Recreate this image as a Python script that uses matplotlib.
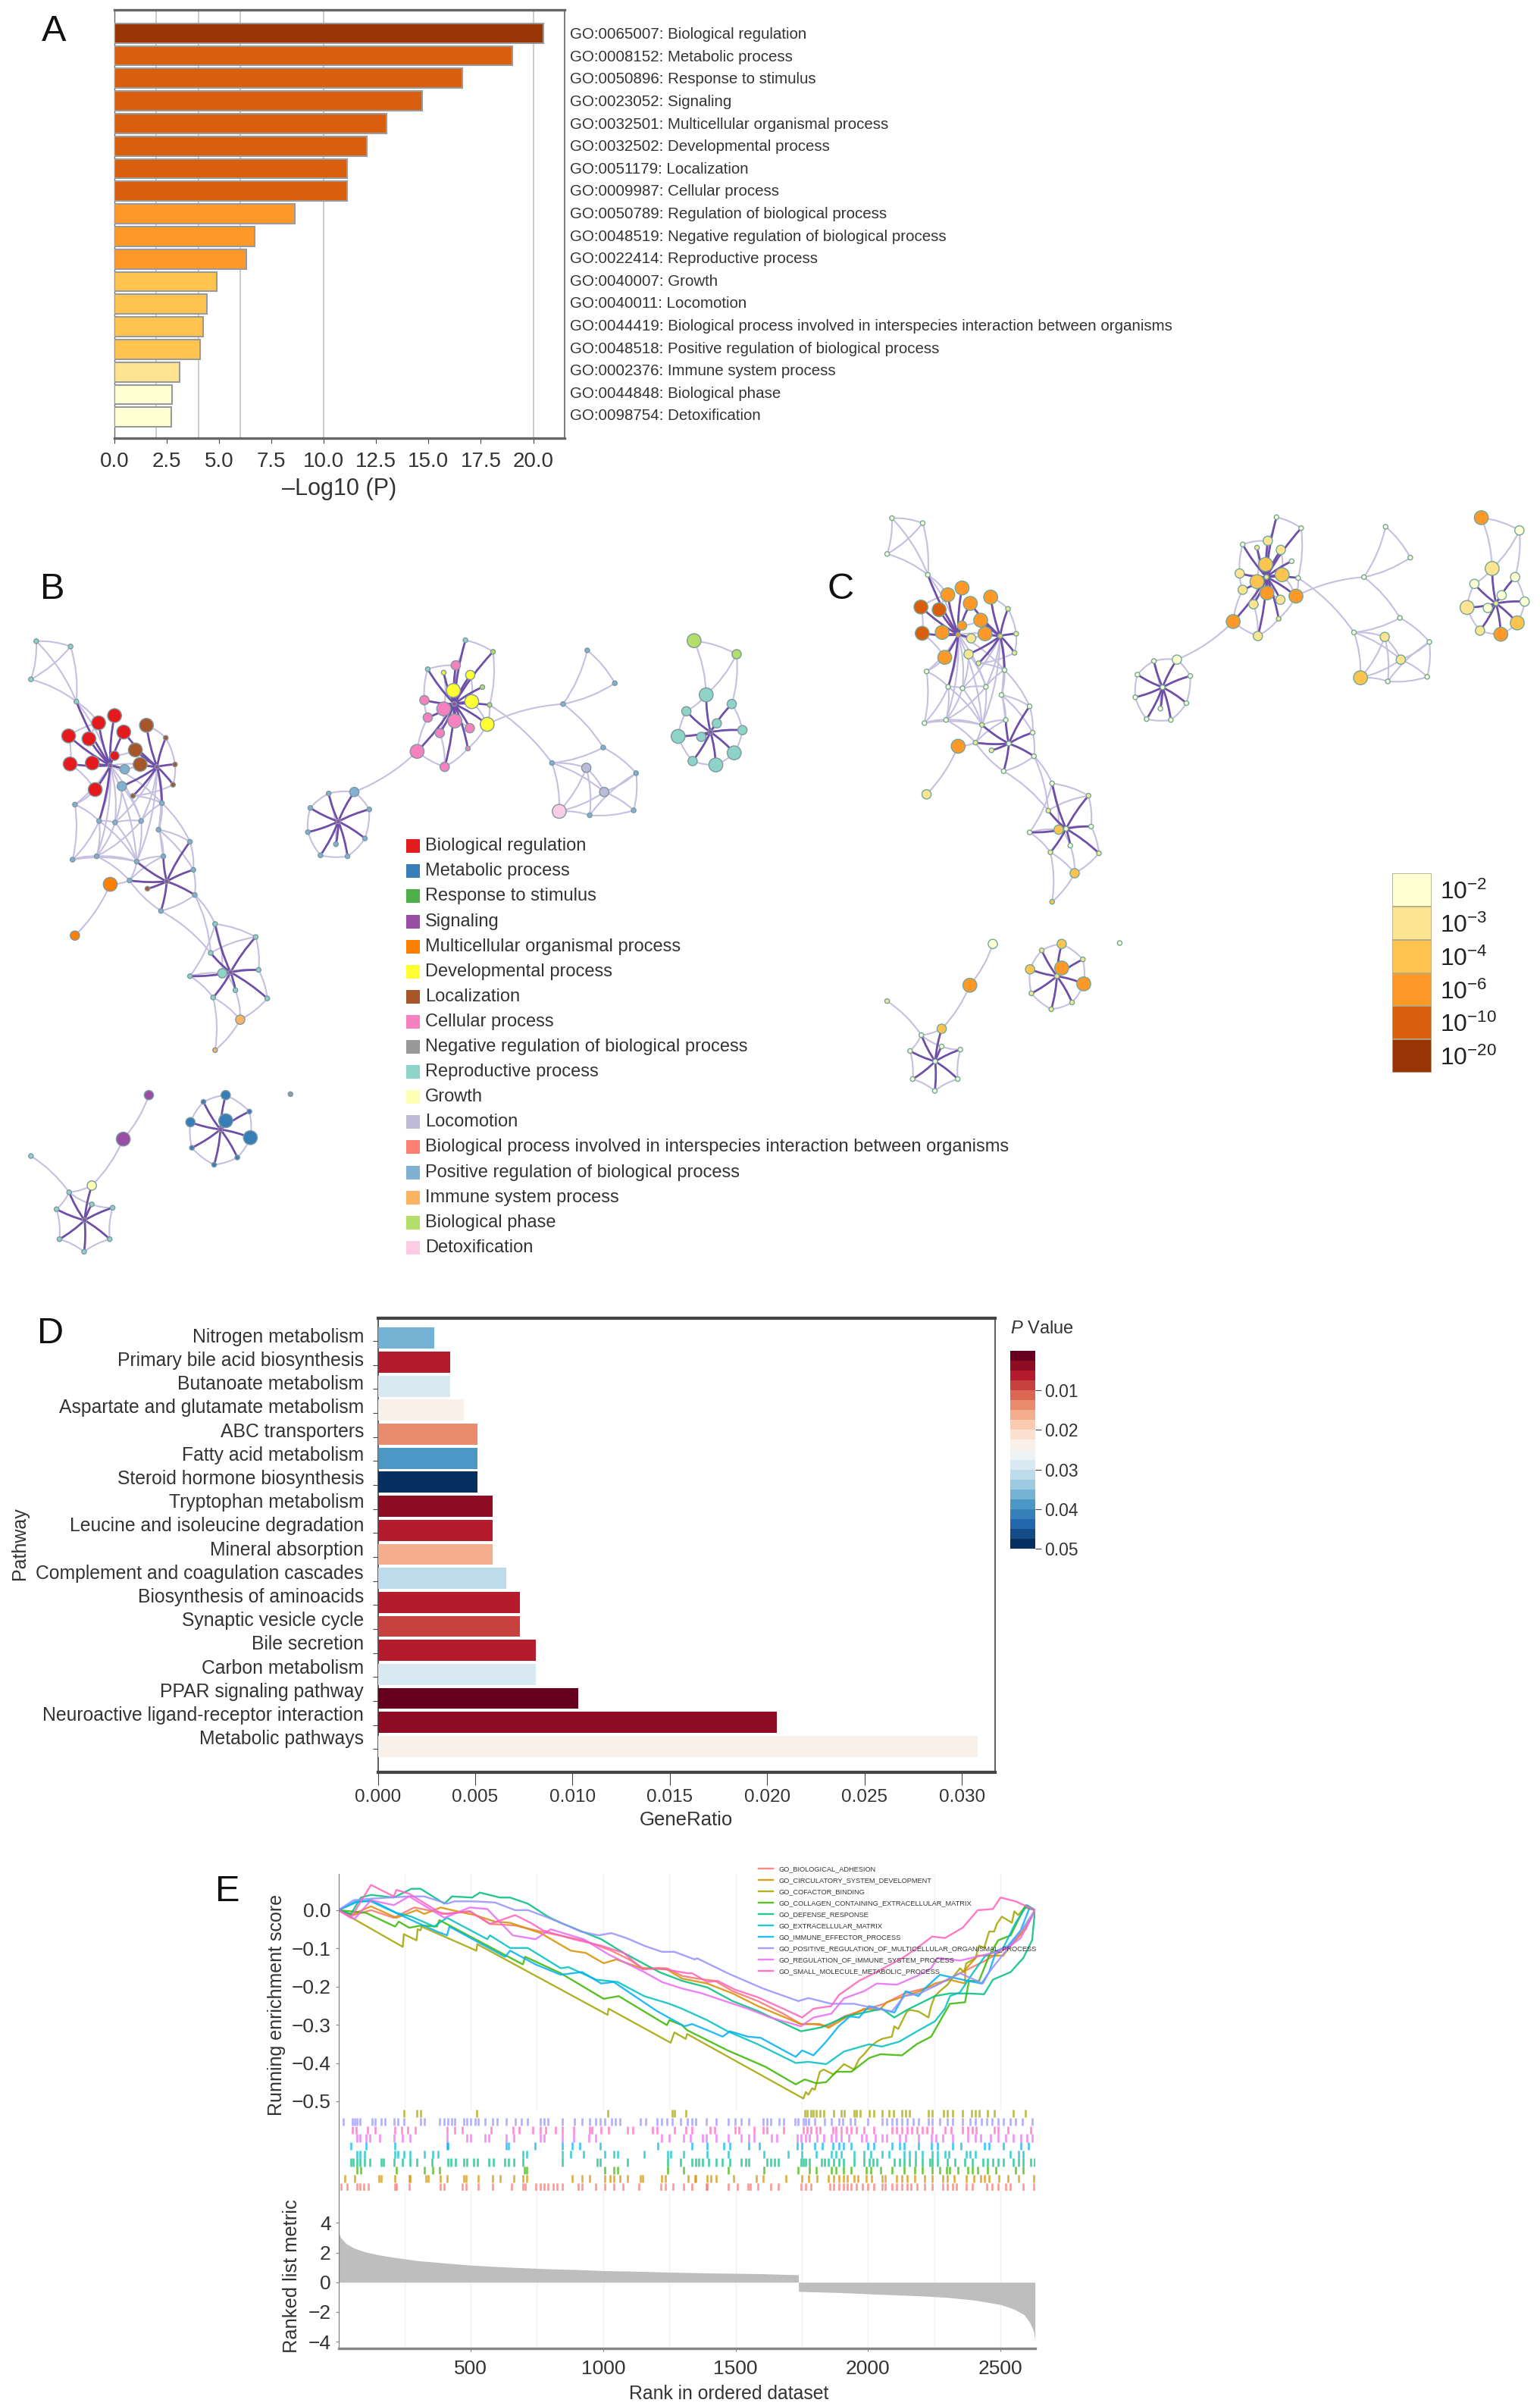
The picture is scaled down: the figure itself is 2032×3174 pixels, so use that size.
import numpy as np
import matplotlib
matplotlib.use('Agg')
import matplotlib.pyplot as plt
from matplotlib.cm import ScalarMappable
from matplotlib.colors import Normalize, to_rgba
from matplotlib.patches import PathPatch
from matplotlib.path import Path

plt.rcParams['font.family'] = ['Liberation Sans', 'DejaVu Sans']
plt.rcParams['mathtext.fontset'] = 'custom'
plt.rcParams['mathtext.rm'] = 'Liberation Sans'
plt.rcParams['mathtext.it'] = 'Liberation Sans:italic'

# ---- panel A
go_terms = ['GO:0065007: Biological regulation', 'GO:0008152: Metabolic process',
            'GO:0050896: Response to stimulus', 'GO:0023052: Signaling',
            'GO:0032501: Multicellular organismal process', 'GO:0032502: Developmental process',
            'GO:0051179: Localization', 'GO:0009987: Cellular process',
            'GO:0050789: Regulation of biological process',
            'GO:0048519: Negative regulation of biological process',
            'GO:0022414: Reproductive process', 'GO:0040007: Growth', 'GO:0040011: Locomotion',
            'GO:0044419: Biological process involved in interspecies interaction between organisms',
            'GO:0048518: Positive regulation of biological process',
            'GO:0002376: Immune system process', 'GO:0044848: Biological phase',
            'GO:0098754: Detoxification']
go_logp = [20.5, 19.0, 16.6, 14.7, 13.0, 12.05, 11.1, 11.1, 8.6, 6.7, 6.3, 4.9, 4.4, 4.25, 4.1, 3.1, 2.75, 2.7]
go_level = [5, 4, 4, 4, 4, 4, 4, 4, 3, 3, 3, 2, 2, 2, 2, 1, 0, 0]
p_colors = ['#ffffd4', '#fee391', '#fec44f', '#fe9929', '#d95f0e', '#993404']
p_labels = ['2', '3', '4', '6', '10', '20']

# ---- panels B and C, network
term_names = ['Biological regulation', 'Metabolic process', 'Response to stimulus', 'Signaling',
              'Multicellular organismal process', 'Developmental process', 'Localization',
              'Cellular process', 'Negative regulation of biological process', 'Reproductive process',
              'Growth', 'Locomotion', 'Biological process involved in interspecies interaction between organisms',
              'Positive regulation of biological process', 'Immune system process', 'Biological phase',
              'Detoxification']
term_colors = ['#e41a1c', '#377eb8', '#4daf4a', '#984ea3', '#ff7f00', '#ffff33', '#a65628', '#f781bf',
               '#999999', '#8dd3c7', '#ffffb3', '#bebada', '#fb8072', '#80b1d3', '#fdb462', '#b3de69', '#fccde5']
# x, y, genes, term in B, p level in C
nodes = [
    (75, 260, 1, 9, 0), (146, 271, 1, 9, 0), (64, 339, 1, 9, 0), (158, 385, 1, 9, 0),
    (142, 456, 3, 0, 4), (184, 462, 3, 0, 4), (204, 429, 3, 0, 3), (237, 414, 3, 0, 3), (256, 448, 3, 0, 3),
    (145, 514, 3, 0, 4), (191, 512, 3, 0, 3), (237, 497, 2, 0, 3), (197, 567, 3, 0, 3), (228, 517, 1, 3, 3),
    (303, 434, 3, 6, 3), (343, 460, 1, 6, 1), (280, 485, 3, 6, 3), (290, 515, 3, 6, 3), (362, 515, 1, 6, 1),
    (358, 557, 1, 6, 1), (275, 580, 1, 6, 1), (325, 520, 1, 3, 2), (258, 525, 2, 13, 1), (252, 560, 2, 13, 1),
    (155, 598, 1, 13, 0), (205, 632, 1, 13, 0), (238, 635, 1, 13, 0), (292, 632, 1, 13, 0), (335, 595, 1, 13, 0),
    (328, 650, 1, 13, 0), (150, 712, 1, 13, 0), (200, 705, 1, 13, 0), (283, 716, 1, 13, 1), (268, 755, 1, 13, 1),
    (228, 763, 3, 4, 3), (155, 869, 2, 4, 1), (393, 675, 1, 13, 0), (338, 705, 1, 13, 0), (400, 733, 1, 13, 0),
    (403, 785, 1, 13, 0), (333, 818, 1, 13, 0), (305, 772, 1, 6, 1), (345, 757, 1, 3, 0),
    (445, 845, 1, 9, 0), (529, 872, 1, 9, 1), (436, 905, 1, 9, 1), (460, 947, 2, 9, 2), (393, 953, 1, 9, 0),
    (535, 940, 1, 9, 0), (487, 982, 1, 9, 0), (441, 997, 1, 9, 1), (553, 999, 1, 9, 1), (477, 945, 1, 3, 0),
    (497, 1043, 2, 14, 2), (445, 1106, 1, 14, 2),
    (308, 1199, 2, 3, 0), (255, 1290, 3, 3, 3), (190, 1386, 2, 10, 2), (64, 1325, 1, 9, 1), (143, 1400, 1, 9, 0),
    (117, 1435, 1, 9, 0), (233, 1432, 1, 9, 0), (190, 1425, 1, 9, 0), (123, 1497, 1, 9, 0), (227, 1497, 1, 9, 0),
    (174, 1523, 1, 9, 0), (175, 1458, 1, 3, 0),
    (467, 1199, 2, 1, 2), (467, 1252, 3, 1, 3), (421, 1213, 1, 1, 1), (516, 1233, 1, 1, 1), (394, 1255, 2, 1, 2),
    (518, 1287, 3, 1, 3), (397, 1308, 1, 1, 1), (491, 1328, 1, 1, 1), (443, 1343, 1, 1, 1), (456, 1270, 1, 3, 1),
    (601, 1197, 1, 8, 0),
    (963, 258, 1, 9, 0), (1020, 282, 1, 15, 0), (943, 310, 2, 7, 1), (885, 318, 1, 9, 0), (918, 325, 1, 5, 1),
    (973, 330, 2, 5, 1), (998, 355, 1, 15, 0), (938, 362, 3, 5, 2), (976, 385, 3, 5, 2), (1013, 392, 1, 15, 0),
    (878, 382, 2, 7, 1), (918, 400, 3, 7, 2), (885, 418, 2, 7, 1), (941, 425, 3, 7, 3), (1008, 432, 3, 5, 3),
    (972, 440, 2, 7, 1), (910, 450, 2, 7, 1), (968, 482, 1, 7, 1), (863, 488, 3, 7, 3), (920, 520, 2, 7, 1),
    (940, 390, 1, 3, 1),
    (680, 575, 1, 13, 0), (733, 572, 2, 13, 0), (764, 608, 1, 13, 0), (642, 605, 1, 13, 0), (755, 668, 1, 13, 0),
    (637, 655, 1, 13, 0), (663, 703, 1, 13, 0), (719, 705, 1, 13, 0), (695, 680, 1, 13, 0), (700, 633, 1, 3, 0),
    (1215, 279, 1, 13, 0), (1272, 347, 1, 13, 0), (1165, 390, 1, 13, 0), (1248, 480, 1, 13, 0), (1142, 512, 1, 13, 0),
    (1213, 522, 2, 11, 1), (1316, 533, 1, 13, 0), (1250, 572, 2, 11, 1), (1311, 610, 1, 13, 0), (1220, 620, 1, 13, 0),
    (1157, 612, 3, 16, 2),
    (1436, 259, 3, 15, 3), (1524, 287, 2, 15, 0), (1461, 371, 3, 9, 1), (1514, 390, 2, 9, 0), (1420, 405, 2, 9, 0),
    (1483, 430, 2, 9, 0), (1536, 444, 2, 9, 0), (1403, 457, 3, 9, 1), (1451, 458, 2, 9, 0), (1519, 491, 3, 9, 2),
    (1433, 508, 2, 9, 1), (1481, 516, 3, 9, 3), (1470, 448, 1, 3, 1),
]
node_x = [n[0] for n in nodes]
node_y = [n[1] for n in nodes]
node_genes = [n[2] for n in nodes]
node_term = [n[3] for n in nodes]
node_level = [n[4] for n in nodes]
hub_spokes = {
    13: [4, 5, 6, 7, 8, 9, 10, 11, 12, 3, 22, 25],
    21: [14, 15, 16, 17, 18, 19, 20, 8, 28, 23],
    42: [36, 37, 38, 39, 40, 41, 33, 32],
    52: [43, 44, 45, 46, 47, 48, 49, 50, 51],
    66: [57, 59, 60, 61, 62, 63, 64, 65],
    76: [67, 68, 69, 70, 71, 72, 73, 74, 75],
    98: [78, 79, 80, 81, 82, 83, 84, 85, 86, 87, 88, 89, 90, 91, 92, 93, 94, 95, 96, 97],
    108: [99, 100, 101, 102, 103, 104, 105, 106, 107],
    132: [122, 123, 124, 125, 126, 127, 128, 129, 130, 131],
}
web_edges = [
    (0, 1), (1, 2), (0, 2), (1, 3), (2, 3), (0, 3), (3, 13), (3, 6),
    (24, 25), (25, 26), (26, 27), (27, 28), (24, 30), (25, 30), (25, 31), (25, 32), (26, 31), (27, 31), (27, 32),
    (30, 31), (31, 32), (32, 33), (33, 34), (34, 35), (28, 29), (29, 36), (36, 38), (38, 39), (39, 40), (40, 33),
    (33, 37), (32, 37), (37, 28), (29, 37), (12, 24), (13, 24), (13, 25), (21, 27), (21, 28), (13, 26), (21, 29),
    (13, 32), (39, 43), (39, 45), (40, 45), (13, 21), (22, 21), (13, 28), (13, 27), (21, 26), (21, 32), (13, 31),
    (4, 6), (5, 6), (4, 9), (9, 12), (14, 15), (15, 18), (18, 19), (19, 20), (20, 28), (16, 11), (17, 22), (23, 26),
    (23, 27), (30, 32), (31, 33), (26, 32), (29, 38), (28, 36),
    (43, 44), (44, 48), (48, 51), (43, 47), (47, 50), (50, 54), (50, 53), (51, 53), (53, 54), (45, 44), (47, 46),
    (43, 46), (45, 49), (46, 48), (49, 53),
    (55, 56), (56, 57), (57, 59), (58, 59), (59, 60), (60, 63), (63, 65), (65, 64), (64, 61), (61, 62), (62, 59),
    (69, 67), (67, 70), (70, 72), (72, 74), (74, 75), (75, 73), (73, 71), (71, 69),
    (78, 79), (78, 80), (79, 87), (87, 92), (92, 95), (95, 97), (97, 96), (96, 90), (90, 88), (88, 81), (81, 80),
    (80, 85), (82, 89), (83, 86), (85, 91), (89, 94), (91, 93), (86, 92), (94, 97),
    (96, 100), (92, 111), (87, 113),
    (109, 110), (109, 111), (110, 111), (111, 112), (112, 113), (112, 115), (113, 114), (114, 116), (113, 116),
    (113, 119), (114, 119), (114, 118), (115, 117), (116, 117), (117, 118), (115, 116), (118, 115), (116, 119),
    (119, 118),
    (99, 100), (100, 101), (101, 103), (103, 106), (106, 105), (105, 104), (104, 102), (102, 99), (99, 107),
    (120, 121), (120, 122), (121, 122), (121, 123), (122, 124), (123, 126), (126, 129), (129, 131), (131, 130),
    (130, 127), (127, 124),
]

# ---- panel D
pathways = ['Nitrogen metabolism', 'Primary bile acid biosynthesis', 'Butanoate metabolism',
            'Aspartate and glutamate metabolism', 'ABC transporters', 'Fatty acid metabolism',
            'Steroid hormone biosynthesis', 'Tryptophan metabolism', 'Leucine and isoleucine degradation',
            'Mineral absorption', 'Complement and coagulation cascades', 'Biosynthesis of aminoacids',
            'Synaptic vesicle cycle', 'Bile secretion', 'Carbon metabolism', 'PPAR signaling pathway',
            'Neuroactive ligand-receptor interaction', 'Metabolic pathways']
gene_ratio = [0.0029, 0.0037, 0.0037, 0.0044, 0.0051, 0.0051, 0.0051, 0.0059, 0.0059, 0.0059, 0.0066,
              0.0073, 0.0073, 0.0081, 0.0081, 0.0103, 0.0205, 0.0308]
p_value = [0.036, 0.0065, 0.028, 0.023, 0.014, 0.038, 0.05, 0.004, 0.006, 0.016, 0.030, 0.0065, 0.0085,
           0.0065, 0.028, 0.0005, 0.0045, 0.024]

# ---- panel E curves, (rank, running score)
biological_adhesion = [(1, 0), (58, -.013), (124, 0), (210, -.02), (287, .007), (411, -.01), (497, -.003), (573, -.036),
    (668, -.04), (764, -.056), (926, -.079), (1031, -.106), (1098, -.129), (1150, -.152), (1241, -.152), (1298, -.172),
    (1355, -.179), (1422, -.185), (1489, -.212), (1584, -.238), (1680, -.271), (1746, -.298), (1794, -.298),
    (1851, -.304), (1909, -.278), (1985, -.261), (2061, -.245), (2137, -.218), (2252, -.198), (2347, -.165),
    (2443, -.132), (2538, -.093), (2595, -.05), (2630, 0)]
circulatory_system = [(1, 0), (48, -.013), (124, .01), (220, -.02), (296, 0), (325, -.01), (387, .007), (430, 0),
    (516, -.013), (592, -.03), (649, -.033), (764, -.06), (878, -.106), (935, -.112), (1002, -.139), (1050, -.129),
    (1145, -.152), (1241, -.155), (1298, -.179), (1393, -.192), (1489, -.218), (1584, -.251), (1746, -.298),
    (1818, -.298), (1851, -.308), (1909, -.284), (1985, -.258), (2042, -.261), (2071, -.241), (2137, -.225),
    (2195, -.212), (2252, -.192), (2309, -.182), (2366, -.192), (2367, -.155), (2414, -.119), (2510, -.119),
    (2538, -.093), (2595, -.043), (2630, 0)]
cofactor_binding = [(1, 0), (244, -.096), (248, -.063), (296, -.079), (300, -.05), (311, -.053), (315, -.043),
    (522, -.106), (525, -.089), (1017, -.274), (1021, -.258), (1255, -.347), (1269, -.32), (1312, -.337),
    (1317, -.324), (1756, -.493), (1765, -.476), (1775, -.483), (1789, -.466), (1799, -.47), (1818, -.423),
    (1832, -.417), (1870, -.43), (1909, -.403), (1947, -.417), (1966, -.39), (1985, -.377), (2009, -.357),
    (2033, -.344), (2052, -.337), (2090, -.331), (2099, -.304), (2114, -.311), (2128, -.291), (2147, -.265),
    (2157, -.261), (2190, -.265), (2228, -.281), (2238, -.251), (2252, -.225), (2271, -.212), (2300, -.195),
    (2324, -.172), (2347, -.152), (2362, -.162), (2371, -.139), (2405, -.126), (2419, -.093), (2438, -.099),
    (2457, -.056), (2476, -.056), (2486, -.036), (2505, -.017), (2543, -.033), (2552, -.003), (2567, -.013),
    (2591, .007), (2630, 0)]
collagen_matrix = [(1, 0), (105, -.007), (215, -.043), (229, -.03), (268, -.046), (315, -.04), (373, -.043),
    (382, -.026), (697, -.142), (706, -.122), (840, -.165), (1002, -.232), (1059, -.225), (1241, -.301),
    (1250, -.288), (1298, -.301), (1317, -.314), (1470, -.367), (1613, -.41), (1727, -.456), (1761, -.443),
    (1804, -.453), (1842, -.45), (1880, -.423), (1937, -.423), (2004, -.387), (2047, -.377), (2128, -.38),
    (2185, -.35), (2238, -.331), (2271, -.291), (2309, -.245), (2366, -.241), (2381, -.185), (2419, -.185),
    (2457, -.119), (2491, -.079), (2538, -.066), (2576, -.013), (2595, .013), (2630, 0)]
defense_response = [(1, 0), (48, -.01), (86, .033), (124, .04), (210, .033), (277, .056), (311, .056), (401, .017),
    (430, .036), (506, .033), (535, .046), (611, .033), (649, .033), (716, .017), (792, -.017), (840, -.033),
    (935, -.06), (993, -.076), (1078, -.112), (1212, -.162), (1298, -.185), (1393, -.202), (1489, -.238),
    (1584, -.264), (1746, -.317), (1823, -.307), (1918, -.278), (2052, -.258), (2099, -.281), (2147, -.261),
    (2252, -.225), (2309, -.218), (2376, -.218), (2438, -.22), (2471, -.182), (2538, -.162), (2586, -.125),
    (2619, -.079), (2630, 0)]
extracellular_matrix = [(1, 0), (67, .02), (124, .026), (220, -.007), (277, -.017), (363, -.043), (382, -.033),
    (411, -.02), (563, -.076), (573, -.066), (649, -.099), (716, -.099), (840, -.152), (869, -.149), (974, -.182),
    (1055, -.188), (1155, -.225), (1250, -.245), (1298, -.258), (1393, -.288), (1470, -.317), (1584, -.351),
    (1727, -.4), (1775, -.397), (1842, -.403), (1909, -.37), (2004, -.351), (2052, -.357), (2118, -.344),
    (2185, -.317), (2252, -.291), (2290, -.258), (2309, -.225), (2347, -.215), (2395, -.165), (2443, -.119),
    (2510, -.099), (2557, -.033), (2600, .013), (2630, 0)]
immune_effector = [(1, 0), (67, .023), (124, .023), (277, -.026), (373, -.056), (411, -.066), (420, -.043),
    (630, -.122), (649, -.106), (745, -.142), (840, -.169), (921, -.162), (993, -.192), (1040, -.188), (1203, -.264),
    (1307, -.304), (1336, -.298), (1393, -.314), (1451, -.331), (1479, -.317), (1546, -.331), (1594, -.334),
    (1727, -.384), (1751, -.367), (1794, -.38), (1842, -.344), (1889, -.304), (1932, -.278), (1966, -.281),
    (2004, -.251), (2061, -.261), (2099, -.268), (2118, -.245), (2142, -.212), (2190, -.225), (2214, -.205),
    (2271, -.169), (2376, -.185), (2429, -.192), (2457, -.162), (2481, -.112), (2529, -.093), (2576, -.053),
    (2610, .007), (2630, 0)]
positive_regulation = [(1, 0), (58, .026), (124, .03), (268, .036), (325, .036), (411, .017), (439, .023), (516, .023),
    (592, .02), (668, 0), (716, 0), (783, -.017), (840, -.033), (916, -.056), (983, -.066), (1031, -.06), (1088, -.073),
    (1155, -.093), (1222, -.109), (1269, -.109), (1346, -.129), (1355, -.126), (1470, -.165), (1603, -.205),
    (1737, -.238), (1775, -.23), (1861, -.245), (1947, -.245), (2033, -.258), (2090, -.265), (2137, -.225),
    (2195, -.218), (2271, -.192), (2347, -.165), (2433, -.192), (2457, -.162), (2529, -.099), (2586, -.046), (2630, 0)]
regulation_immune = [(1, 0), (62, -.023), (124, .026), (210, .013), (268, .036), (401, -.02), (497, .007), (563, .003),
    (659, -.066), (745, -.076), (802, -.05), (926, -.076), (1021, -.116), (1155, -.162), (1222, -.188), (1298, -.205),
    (1374, -.218), (1460, -.238), (1546, -.258), (1632, -.281), (1746, -.304), (1794, -.281), (1861, -.271),
    (1909, -.231), (1985, -.212), (2033, -.192), (2109, -.195), (2185, -.172), (2238, -.152), (2262, -.125),
    (2347, -.132), (2471, -.112), (2538, -.093), (2576, -.073), (2630, 0)]
small_molecule = [(1, 0), (48, -.02), (124, .066), (210, .036), (220, .053), (268, .043), (392, -.01), (497, -.003),
    (573, -.036), (668, -.013), (726, -.033), (773, -.053), (888, -.076), (993, -.093), (1078, -.112), (1150, -.155),
    (1212, -.152), (1317, -.165), (1336, -.165), (1393, -.188), (1432, -.185), (1498, -.208), (1584, -.228),
    (1680, -.258), (1751, -.281), (1794, -.258), (1861, -.251), (1890, -.222), (1966, -.185), (2023, -.165),
    (2128, -.126), (2185, -.099), (2242, -.069), (2290, -.073), (2357, -.046), (2414, 0), (2471, .003), (2500, .033),
    (2557, .023), (2630, 0)]
gsea_curves = [biological_adhesion, circulatory_system, cofactor_binding, collagen_matrix, defense_response,
               extracellular_matrix, immune_effector, positive_regulation, regulation_immune, small_molecule]
gsea_names = ['GO_BIOLOGICAL_ADHESION', 'GO_CIRCULATORY_SYSTEM_DEVELOPMENT', 'GO_COFACTOR_BINDING',
              'GO_COLLAGEN_CONTAINING_EXTRACELLULAR_MATRIX', 'GO_DEFENSE_RESPONSE', 'GO_EXTRACELLULAR_MATRIX',
              'GO_IMMUNE_EFFECTOR_PROCESS', 'GO_POSITIVE_REGULATION_OF_MULTICELLULAR_ORGANISMAL_PROCESS',
              'GO_REGULATION_OF_IMMUNE_SYSTEM_PROCESS', 'GO_SMALL_MOLECULE_METABOLIC_PROCESS']
gsea_colors = ['#F8766D', '#D89000', '#A3A500', '#39B600', '#00BF7D', '#00BFC4', '#00B0F6', '#9590FF', '#E76BF3', '#FF62BC']

# hit ranks of every set
rug_cofactor = [247, 296, 310, 523, 1019, 1260, 1269, 1312, 1761, 1770, 1785, 1794, 1804, 1818, 1832, 1870, 1899, 1909,
    1947, 1956, 1971, 2004, 2023, 2052, 2080, 2095, 2128, 2142, 2157, 2228, 2242, 2285, 2299, 2319, 2357, 2390, 2405,
    2419, 2452, 2476, 2548, 2595]
rug_positive = [20, 53, 62, 72, 82, 129, 139, 163, 177, 210, 225, 248, 311, 325, 382, 401, 415, 430, 439, 473, 487, 501,
    516, 530, 554, 582, 601, 635, 668, 692, 716, 764, 778, 792, 845, 892, 921, 950, 973, 988, 1007, 1031, 1045, 1064,
    1141, 1160, 1203, 1222, 1241, 1260, 1293, 1317, 1336, 1350, 1389, 1427, 1474, 1498, 1522, 1551, 1603, 1618, 1632,
    1665, 1680, 1723, 1737, 1756, 1765, 1775, 1799, 1837, 1861, 1889, 1904, 1932, 1951, 1999, 2052, 2071, 2090, 2109,
    2128, 2147, 2171, 2190, 2228, 2242, 2271, 2300, 2319, 2357, 2386, 2405, 2429, 2448, 2467, 2490, 2510, 2538, 2557,
    2581, 2619]
rug_small = [53, 67, 110, 139, 215, 239, 263, 291, 411, 439, 468, 578, 659, 683, 735, 764, 783, 821, 845, 888, 950, 959,
    993, 1021, 1093, 1112, 1188, 1203, 1269, 1312, 1336, 1403, 1422, 1498, 1513, 1570, 1603, 1618, 1680, 1756, 1770,
    1785, 1804, 1818, 1866, 1880, 1899, 1918, 1937, 1956, 1985, 2023, 2090, 2109, 2128, 2147, 2166, 2185, 2204, 2223,
    2242, 2290, 2314, 2357, 2376, 2395, 2409, 2476, 2490, 2529, 2614]
rug_regulation = [72, 82, 105, 120, 158, 210, 244, 272, 411, 487, 501, 554, 568, 635, 663, 764, 778, 845, 888, 945, 973,
    1222, 1250, 1303, 1331, 1374, 1389, 1427, 1474, 1522, 1551, 1570, 1637, 1656, 1732, 1746, 1765, 1780, 1808, 1832,
    1861, 1880, 1899, 1928, 1975, 1994, 2028, 2052, 2071, 2118, 2142, 2190, 2238, 2257, 2281, 2319, 2376, 2405, 2424,
    2462, 2490, 2519, 2548, 2577, 2600, 2619]
rug_immune = [48, 105, 215, 411, 415, 635, 644, 742, 845, 883, 912, 988, 1207, 1336, 1393, 1455, 1479, 1551, 1589, 1732,
    1751, 1799, 1827, 1866, 1889, 1908, 1937, 1999, 2023, 2090, 2118, 2137, 2190, 2238, 2262, 2319, 2352, 2438, 2457,
    2510, 2576, 2605]
rug_extracellular = [72, 82, 101, 215, 225, 248, 272, 325, 358, 377, 697, 711, 845, 878, 926, 1007, 1040, 1055, 1155, 1245,
    1255, 1303, 1393, 1474, 1608, 1699, 1751, 1804, 1861, 1880, 1899, 1947, 1985, 2009, 2052, 2080, 2137, 2157, 2180,
    2204, 2242, 2262, 2290, 2304, 2371, 2386, 2405, 2538, 2567, 2586]
rug_defense = [48, 58, 72, 82, 101, 120, 163, 172, 210, 244, 272, 296, 354, 415, 425, 444, 473, 487, 511, 525, 568, 587,
    630, 644, 663, 697, 845, 978, 988, 1093, 1245, 1293, 1336, 1350, 1360, 1374, 1398, 1427, 1451, 1479, 1522, 1537, 1551,
    1618, 1632, 1646, 1661, 1746, 1756, 1765, 1780, 1823, 1837, 1851, 1870, 1889, 1908, 1947, 1985, 2004, 2018, 2033,
    2099, 2118, 2137, 2157, 2180, 2204, 2233, 2242, 2262, 2300, 2328, 2366, 2395, 2433, 2452, 2471, 2491, 2510, 2548,
    2567, 2586, 2614, 2629]
rug_collagen = [72, 86, 220, 325, 358, 382, 702, 711, 1007, 1040, 1055, 1245, 1303, 1474, 1608, 1737, 1780, 1804, 1861,
    1880, 1908, 1937, 1994, 2009, 2047, 2090, 2137, 2176, 2204, 2242, 2271, 2295, 2309, 2338, 2376, 2395, 2414, 2452,
    2481, 2557, 2586]
rug_circulatory = [24, 62, 153, 163, 215, 268, 272, 330, 339, 387, 411, 473, 482, 530, 582, 611, 663, 697, 711, 883, 921,
    950, 1007, 1026, 1040, 1064, 1093, 1141, 1150, 1222, 1236, 1322, 1346, 1350, 1393, 1408, 1427, 1494, 1579, 1603,
    1689, 1751, 1775, 1808, 1851, 1870, 1889, 1908, 1923, 1947, 1961, 1994, 2014, 2052, 2066, 2109, 2128, 2147, 2176,
    2214, 2242, 2281, 2300, 2324, 2371, 2400, 2424, 2438, 2457, 2495, 2529, 2567, 2624]
rug_adhesion = [10, 34, 72, 82, 96, 115, 215, 220, 268, 387, 401, 468, 482, 530, 582, 654, 697, 706, 745, 764, 778, 792,
    811, 826, 845, 907, 921, 973, 1007, 1040, 1074, 1136, 1217, 1236, 1265, 1303, 1336, 1389, 1393, 1474, 1508, 1546, 1556,
    1584, 1632, 1660, 1746, 1765, 1785, 1856, 1870, 1889, 1908, 1923, 1937, 1956, 1980, 1999, 2023, 2052, 2066, 2090,
    2109, 2128, 2147, 2161, 2185, 2214, 2242, 2281, 2300, 2319, 2333, 2371, 2395, 2448, 2467, 2491, 2519, 2538, 2586, 2624]
rug_rows = [rug_cofactor, rug_positive, rug_small, rug_regulation, rug_immune, rug_extracellular, rug_defense,
            rug_collagen, rug_circulatory, rug_adhesion]
rug_colors = ['#A3A500', '#9590FF', '#FF62BC', '#E76BF3', '#00B0F6', '#00BFC4', '#00BF7D', '#39B600', '#D89000', '#F8766D']

metric_rank = [1, 10, 30, 60, 100, 150, 200, 300, 400, 500, 600, 700, 800, 900, 1000, 1100, 1200, 1300, 1400, 1500, 1600,
               1737, 1738, 1800, 1900, 2000, 2100, 2200, 2300, 2400, 2500, 2550, 2590, 2610, 2625, 2630]
metric_value = [3.4, 3.0, 2.6, 2.3, 2.05, 1.85, 1.7, 1.45, 1.3, 1.15, 1.05, 0.97, 0.9, 0.85, 0.78, 0.75, 0.7, 0.66, 0.62,
                0.6, 0.57, 0.5, -0.62, -0.65, -0.7, -0.78, -0.85, -0.92, -1.02, -1.2, -1.5, -1.8, -2.2, -2.7, -3.3, -3.9]

W, H = 2032, 3174
fig = plt.figure(figsize=(W / 100, H / 100), dpi=100, facecolor='white')


def px_axes(x0, y0, x1, y1):
    return fig.add_axes([x0 / W, 1 - y1 / H, (x1 - x0) / W, (y1 - y0) / H])


def curved_edge(ax, a, b, color, lw, bend=0.1):
    xa, ya, xb, yb = node_x[a], node_y[a], node_x[b], node_y[b]
    cx = (xa + xb) / 2 + bend * (yb - ya)
    cy = (ya + yb) / 2 - bend * (xb - xa)
    path = Path([(xa, ya), (cx, cy), (xb, yb)], [Path.MOVETO, Path.CURVE3, Path.CURVE3])
    ax.add_patch(PathPatch(path, fc='none', ec=color, lw=lw, zorder=1))


def draw_network(ax, colors, edge):
    for a, b in web_edges:
        curved_edge(ax, a, b, '#c6bfe0', 1.5)
    for hub, spokes in hub_spokes.items():
        for s in spokes:
            curved_edge(ax, hub, s, '#6e4fa8', 2.0, bend=0.06)
    ax.scatter(node_x, node_y, s=[(4.4 * g) ** 2 for g in node_genes], c=colors, edgecolors=edge, linewidths=1.0, zorder=2)
    ax.set_xlim(0, 1568)
    ax.set_ylim(1568, 0)
    ax.axis('off')


for letter, lx, ly in [('A', 71, 42), ('B', 69, 778), ('C', 1109, 778), ('D', 67, 1759), ('E', 300, 2495)]:
    fig.text(lx / W, 1 - ly / H, letter, fontsize=35, ha='center', va='center', color='#111')

# panel A
ax = px_axes(151, 13, 745, 578)
ypos = np.arange(len(go_terms))
ax.barh(ypos, go_logp, height=0.86, color=[p_colors[l] for l in go_level], edgecolor='#9a9a9a', lw=1.5, zorder=3)
ax.set_ylim(17.93, -1.03)
ax.set_xlim(0, 21.5)
ax.xaxis.remove_overlapping_locs = False
ax.set_xticks(np.arange(0, 20.1, 2.5))
ax.set_xticks([2, 4, 6, 10, 20], minor=True)
ax.grid(which='minor', axis='x', color='#c4c4c4', lw=1.2)
ax.tick_params(axis='x', which='minor', length=0)
ax.tick_params(axis='x', which='major', labelsize=20, length=5, color='#444', labelcolor='#333', pad=8)
ax.set_yticks([])
ax.set_xticklabels(['%.1f' % v for v in np.arange(0, 20.1, 2.5)])
ax.set_xlabel('\u2013Log10 (P)', fontsize=22, color='#333', labelpad=6)
for side, lw in [('top', 2.4), ('bottom', 2.4), ('left', 1), ('right', 1.2)]:
    ax.spines[side].set_linewidth(lw)
    ax.spines[side].set_color('#666')
for i, t in enumerate(go_terms):
    ax.text(21.75, 0.07 + i * 0.993, t, fontsize=14.75, va='center', color='#333', clip_on=False)

# panel B
ax = px_axes(0, 680, 1000, 1680)
draw_network(ax, [term_colors[t] for t in node_term], '#7f97a0')
for i, (name, col) in enumerate(zip(term_names, term_colors)):
    row_y = 684 + 51.9 * i
    ax.scatter([855], [row_y], marker='s', s=185, c=col, linewidths=0, zorder=3)
    ax.text(880, row_y, name, fontsize=17, va='center', color='#333', clip_on=False)

# panel C, same layout squeezed a little
ax = px_axes(1134, 528, 2030, 1466)
draw_network(ax, [p_colors[l] for l in node_level], '#6fa89a')
ax = px_axes(1837, 1152, 1889, 1415)
ax.bar(np.zeros(6), np.ones(6), bottom=np.arange(6), width=1, color=p_colors, edgecolor='#b0ac88', lw=1.2)
ax.set_xlim(-0.5, 0.5)
ax.set_ylim(6, 0)
ax.set_xticks([])
ax.yaxis.tick_right()
ax.set_yticks(np.arange(6) + 0.5)
ax.set_yticklabels([r'$\mathregular{10^{-%s}}$' % s for s in p_labels])
ax.tick_params(axis='y', length=0, labelsize=23, pad=8, labelcolor='#222')
for s in ax.spines.values():
    s.set_visible(False)

# panel D
cmap = plt.get_cmap('RdBu', 20)
norm = Normalize(0, 0.05)
ax = px_axes(498.5, 1739, 1313, 2338)
ypos = np.arange(len(pathways))
ax.barh(ypos, gene_ratio, height=0.88, color=[cmap(norm(p)) for p in p_value], zorder=3)
ax.set_xlim(0, 0.0317)
ax.set_ylim(18.08, -0.834)
ax.set_yticks(ypos + 0.11)
ax.set_yticklabels([])
for i, name in enumerate(pathways):
    ax.text(-0.00072, -0.05 + i * 0.985, name, fontsize=17.8, ha='right', va='center', color='#333', clip_on=False)
ax.set_xticks(np.arange(0, 0.0301, 0.005))
ax.set_xticklabels(['%.3f' % v for v in np.arange(0, 0.0301, 0.005)])
ax.tick_params(axis='y', length=5, color='#444')
ax.tick_params(axis='x', labelsize=17.5, length=12, color='#444', labelcolor='#333', pad=4)
ax.set_xlabel('GeneRatio', fontsize=18.5, color='#333', labelpad=5)
fig.text(26 / W, 1 - 2036 / H, 'Pathway', rotation=90, fontsize=18, ha='center', va='center', color='#333')
for side, lw in [('top', 3), ('bottom', 3), ('left', 1.2), ('right', 1.2)]:
    ax.spines[side].set_linewidth(lw)
    ax.spines[side].set_color('#444')
cax = px_axes(1333, 1782, 1366, 2043)
cb = fig.colorbar(ScalarMappable(norm=norm, cmap=cmap), cax=cax)
cax.invert_yaxis()
cb.set_ticks([0.01, 0.02, 0.03, 0.04, 0.05])
cb.set_ticklabels(['0.01', '0.02', '0.03', '0.04', '0.05'])
cb.outline.set_visible(False)
cax.tick_params(labelsize=16.5, length=6, color='#444', labelcolor='#333', pad=3)
fig.text(1333 / W, 1 - 1753 / H, r'$\mathit{P}$ Value', fontsize=17, va='center', color='#333')

# panel E
ax = px_axes(446.5, 2472, 1366, 2783)
for curve, col, name in zip(gsea_curves, gsea_colors, gsea_names):
    r, s = np.array(curve).T
    ax.plot(r, s, color=col, lw=1.7, label=name, alpha=0.85)
ax.set_xlim(1, 2631)
ax.set_ylim(-0.522, 0.095)
ax.set_yticks([0, -0.1, -0.2, -0.3, -0.4, -0.5])
ax.set_yticklabels(['0.0', '\u22120.1', '\u22120.2', '\u22120.3', '\u22120.4', '\u22120.5'])
ax.set_xticks(np.arange(250, 2501, 250))
ax.tick_params(axis='x', length=0, labelbottom=False)
ax.tick_params(axis='y', labelsize=19, length=3, color='#888', labelcolor='#333', pad=4)
ax.grid(axis='x', color='#f1f1f1', lw=1)
fig.text(365 / W, 1 - 2645 / H, 'Running enrichment score', rotation=90, fontsize=18, ha='center', va='center', color='#333')
leg = ax.legend(loc='upper left', bbox_to_anchor=(0.603, 1.035), frameon=False, fontsize=6.7, labelspacing=0.65,
                handlelength=2.0, handletextpad=0.9, borderpad=0, borderaxespad=0, labelcolor='#333')
for side in ['top', 'right', 'bottom']:
    ax.spines[side].set_visible(False)
ax.spines['left'].set_color('#777')

ax = px_axes(446.5, 2783, 1366, 2890)
ax.eventplot(rug_rows, lineoffsets=np.arange(10) + 0.5, linelengths=0.95, linewidths=1.9,
             colors=[to_rgba(c, 0.72) for c in rug_colors])
ax.set_xlim(1, 2631)
ax.set_ylim(10, 0)
ax.set_xticks([])
ax.set_yticks([])
for side in ['top', 'right', 'bottom']:
    ax.spines[side].set_visible(False)
ax.spines['left'].set_color('#777')

ax = px_axes(446.5, 2890, 1366, 3098)
ax.fill_between(metric_rank, metric_value, 0, color='#bebebe', lw=0, zorder=2)
ax.set_xlim(1, 2631)
ax.set_ylim(-4.45, 6.16)
ax.set_yticks([4, 2, 0, -2, -4])
ax.set_yticklabels(['4', '2', '0', '\u22122', '\u22124'])
ax.set_xticks([500, 1000, 1500, 2000, 2500])
ax.set_xticks(np.arange(250, 2501, 500), minor=True)
ax.grid(which='both', axis='x', color='#f1f1f1', lw=1, zorder=0)
ax.tick_params(axis='x', which='minor', length=0)
ax.tick_params(axis='x', which='major', labelsize=19, length=3, color='#888', labelcolor='#333', pad=8)
ax.tick_params(axis='y', labelsize=19, length=3, color='#888', labelcolor='#333', pad=4)
fig.text(962 / W, 1 - 3158 / H, 'Rank in ordered dataset', fontsize=17.8, ha='center', va='center', color='#333')
fig.text(385 / W, 1 - 3003 / H, 'Ranked list metric', rotation=90, fontsize=18.3, ha='center', va='center', color='#333')
for side in ['top', 'right']:
    ax.spines[side].set_visible(False)
ax.spines['left'].set_color('#777')
ax.spines['bottom'].set_color('#888')
ax.spines['bottom'].set_linewidth(2.4)

fig.savefig('out.png', dpi=100, facecolor='white')
